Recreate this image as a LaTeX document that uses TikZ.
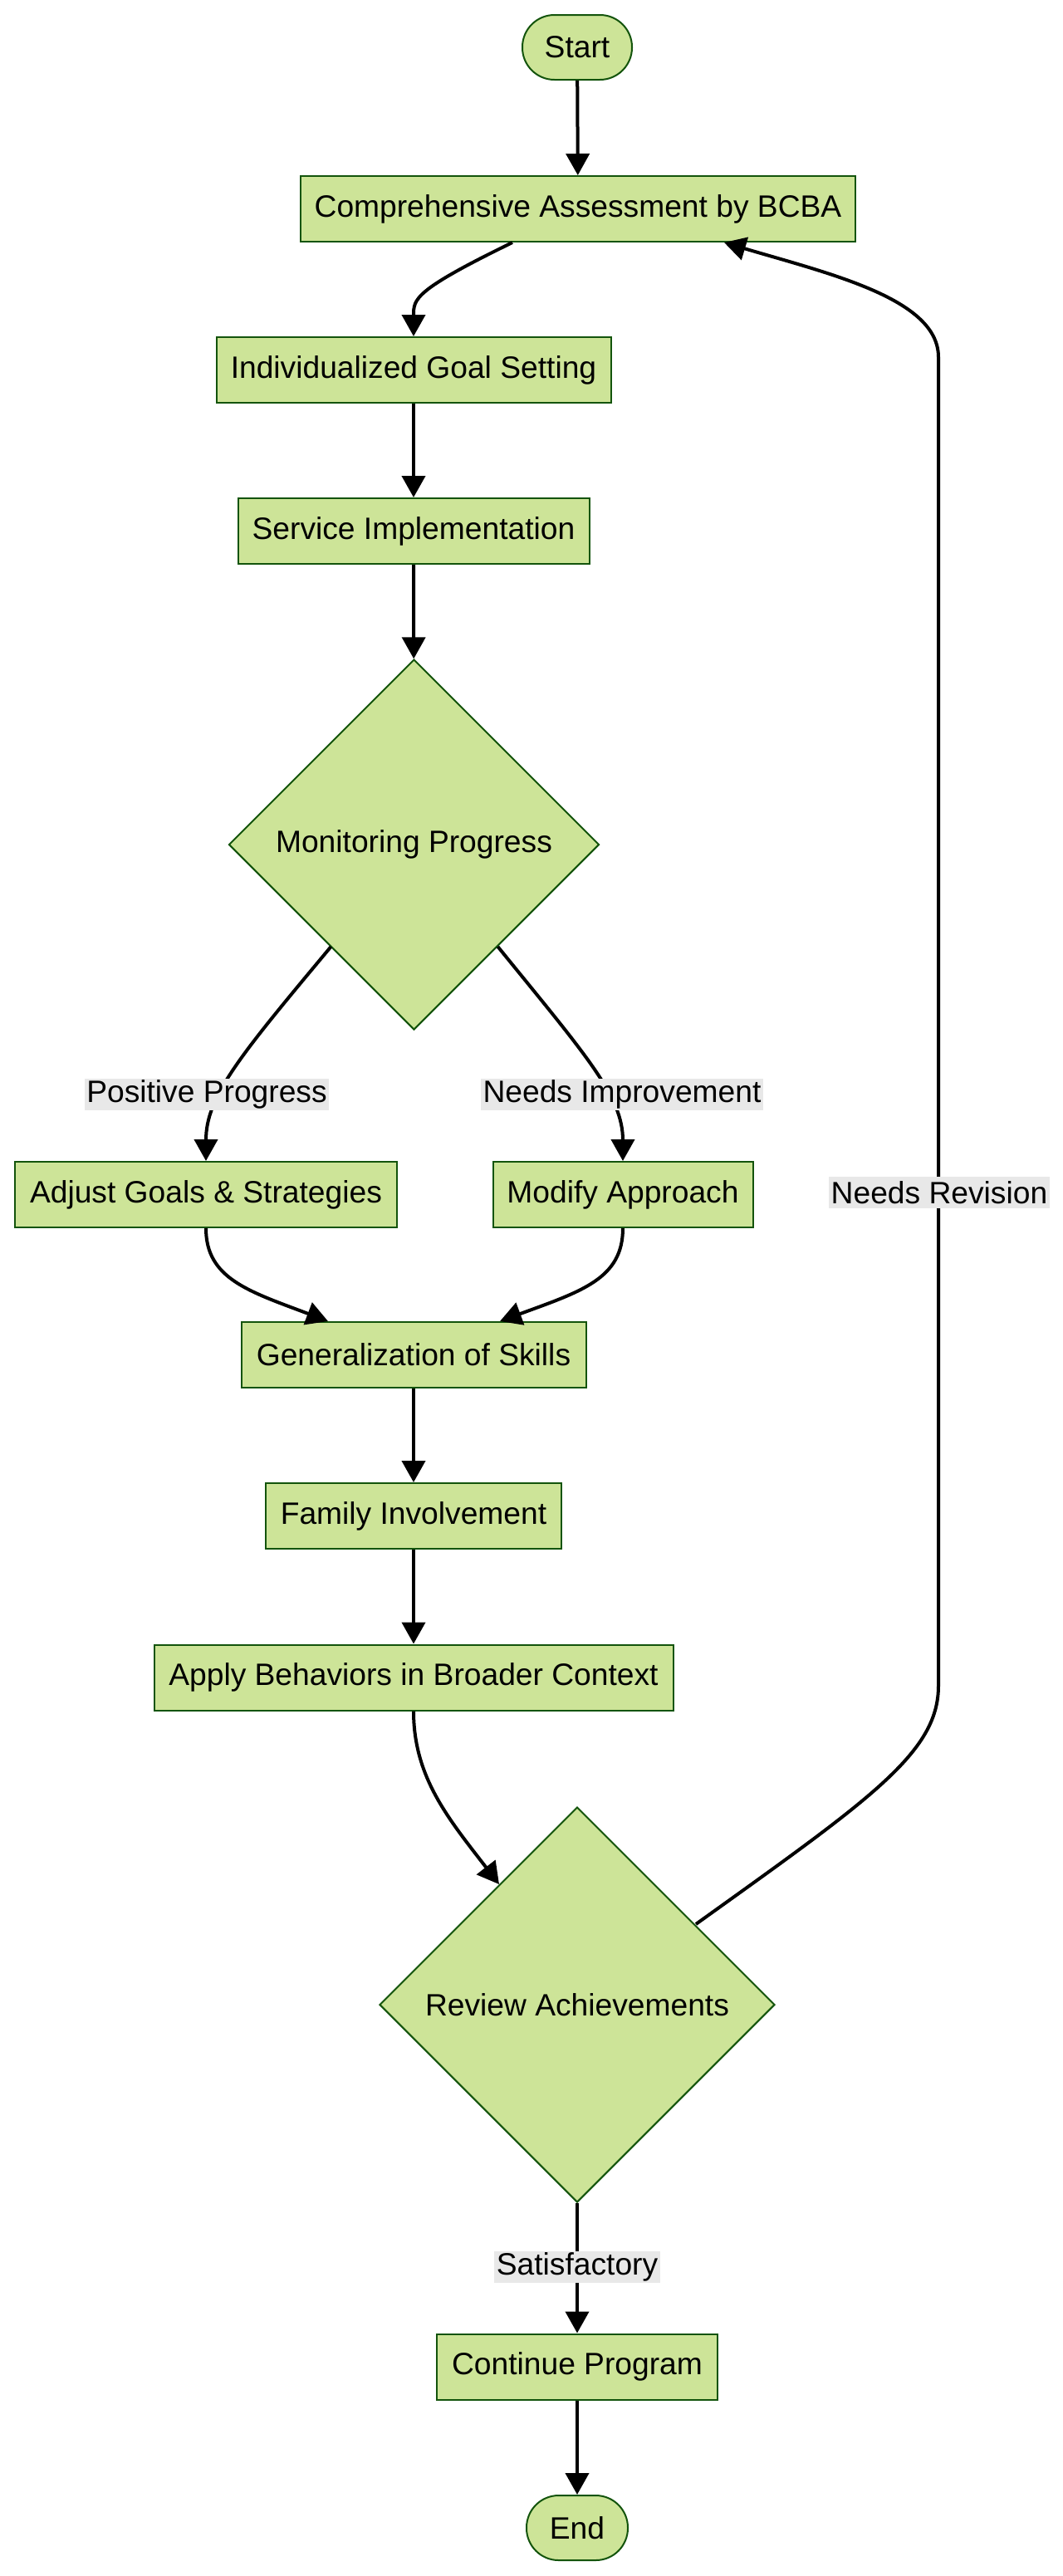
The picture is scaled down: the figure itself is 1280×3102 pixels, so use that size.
\documentclass[tikz,border=0pt]{standalone}
\usepackage{fontspec}
\setmainfont{Liberation Sans}
\usetikzlibrary{shapes.geometric,arrows.meta,calc}
\definecolor{nodefill}{HTML}{CDE498}
\definecolor{nodeline}{HTML}{13540C}
\definecolor{lblgray}{HTML}{E8E8E8}
\begin{document}
\begin{tikzpicture}[x=0.75pt,y=-0.75pt,
  font=\fontsize{27.9}{33}\selectfont,
  box/.style={draw=nodeline,fill=nodefill,line width=1.5pt,inner sep=0pt,minimum height=59.25pt},
  term/.style={box,rounded corners=29pt,minimum height=58.5pt},
  dec/.style={diamond,aspect=1,draw=nodeline,fill=nodefill,line width=1.5pt,inner sep=0pt},
  conn/.style={line width=3pt,-{Triangle[length=19.5pt,width=21pt]}},
  elabel/.style={fill=lblgray,inner xsep=2pt,inner ysep=0pt,minimum height=29pt}]
\useasboundingbox[fill=white] (0,0) rectangle (1280,3102);

\node[term,minimum width=99pt] (st) at (695,57) {Start};
\node[box,minimum width=501pt] (comp) at (696,251.5) {Comprehensive Assessment by BCBA};
\node[box,minimum width=356.25pt] (indiv) at (498,445.5) {Individualized Goal Setting};
\node[box,minimum width=317.25pt] (serv) at (498,639.5) {Service Implementation};
\node[dec,minimum width=334.5pt,minimum height=334.5pt] (mon) at (498.5,1017) {Monitoring Progress};
\node[box,minimum width=345pt] (adj) at (248,1438.5) {Adjust Goals \& Strategies};
\node[box,minimum width=234.75pt] (mod) at (750,1438.5) {Modify Approach};
\node[box,minimum width=311.25pt] (gen) at (498,1631.5) {Generalization of Skills};
\node[box,minimum width=267pt] (fam) at (498,1825.5) {Family Involvement};
\node[box,minimum width=468.75pt] (app) at (498,2020) {Apply Behaviors in Broader Context};
\node[dec,minimum width=357pt,minimum height=357pt] (rev) at (695,2414) {Review Achievements};
\node[box,minimum width=253.5pt] (cont) at (695,2850) {Continue Program};
\node[term,minimum width=91.5pt] (fin) at (695,3044) {End};

\draw[conn] (st) -- (comp);
\draw[conn] ($(comp.south)+(-79,0)$) .. controls (498,350) and (498,360) .. (indiv.north);
\draw[conn] (indiv) -- (serv);
\draw[conn] (serv) -- (mon);
\draw[conn] ($(mon.center)+(-100,123)$) .. controls (290,1270) and (248,1320) .. (adj.north);
\draw[conn] ($(mon.center)+(101,123)$) .. controls (705,1270) and (750,1320) .. (mod.north);
\draw[conn] (adj.south) .. controls (248,1540) and (300,1555) .. ($(gen.north)+(-103,0)$);
\draw[conn] (mod.south) .. controls (750,1540) and (700,1555) .. ($(gen.north)+(104,0)$);
\draw[conn] (gen) -- (fam);
\draw[conn] (fam) -- (app);
\draw[conn] (app.south) .. controls (498,2140) and (540,2190) .. ($(rev.center)+(-94,-145)$);
\draw[conn] ($(rev.center)+(143,-97)$) .. controls (1050,2165) and (1130,2110) .. (1130,2030)
   -- (1130,430) .. controls (1130,360) and (1000,330) .. ($(comp.south)+(176,0)$);
\draw[conn] (rev) -- (cont);
\draw[conn] (cont) -- (fin);

\node[elabel] (l1) at (249,1318) {Positive Progress};
\node[elabel] (l2) at (749,1318) {Needs Improvement};
\node[elabel] (l3) at (1131,1436) {Needs Revision};
\node[elabel] (l4) at (695,2730) {Satisfactory};
\end{tikzpicture}
\end{document}
